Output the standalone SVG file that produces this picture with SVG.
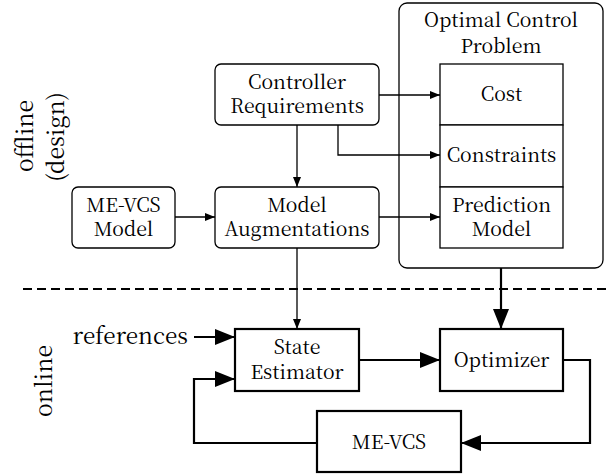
<svg xmlns="http://www.w3.org/2000/svg" width="607" height="474" viewBox="0 0 607 474">
<style>
.b{font-size:19.5px;text-anchor:middle}
.s{font-size:23px;text-anchor:middle}
.rb{fill:#fff;stroke:#000;stroke-width:1.3}
.tb{fill:#fff;stroke:#000;stroke-width:2.2}
.tn{fill:none;stroke:#000;stroke-width:1.3}
.tk{fill:none;stroke:#000;stroke-width:2.2}
</style>
<defs>
<marker id="ah" markerUnits="userSpaceOnUse" markerWidth="11" markerHeight="8" refX="10" refY="4" orient="auto"><path d="M0,0 L10,4 L0,8 Z" fill="#000"/></marker>
<marker id="ahb" markerUnits="userSpaceOnUse" markerWidth="21" markerHeight="16" refX="20" refY="8" orient="auto"><path d="M0,0 L20,8 L0,16 Z" fill="#000"/></marker>
</defs>
<rect width="607" height="474" fill="#fff"/>
<g font-family="'Noto Serif CJK SC', 'Liberation Serif', serif" fill="#000">

<g id="side-labels">
<text class="s" transform="translate(33,136) rotate(-90)">offline</text>
<text class="s" transform="translate(64,137) rotate(-90)">(design)</text>
<text class="s" transform="translate(52,381) rotate(-90)">online</text>
</g>

<g id="divider">
<line x1="23" y1="289" x2="607" y2="289" stroke="#000" stroke-width="2.2" stroke-dasharray="9,5"/>
</g>

<g id="ocp">
<rect class="rb" x="399" y="3" width="204" height="265" rx="8"/>
<text class="b" x="501" y="27">Optimal Control</text>
<text class="b" x="501" y="53">Problem</text>
</g>
<g id="cost">
<rect class="rb" x="440" y="64" width="123" height="61"/>
<text class="b" x="501.5" y="101">Cost</text>
</g>
<g id="constraints">
<rect class="rb" x="440" y="125" width="123" height="62"/>
<text class="b" x="501.5" y="162">Constraints</text>
</g>
<g id="prediction-model">
<rect class="rb" x="440" y="187" width="123" height="61"/>
<text class="b" x="501.5" y="212">Prediction</text>
<text class="b" x="501.5" y="236">Model</text>
</g>

<g id="controller-requirements">
<rect class="rb" x="215" y="64" width="164" height="61" rx="6"/>
<text class="b" x="297" y="89">Controller</text>
<text class="b" x="297" y="113">Requirements</text>
</g>
<g id="me-vcs-model">
<rect class="rb" x="72" y="187" width="103" height="61" rx="6"/>
<text class="b" x="123.5" y="212">ME-VCS</text>
<text class="b" x="123.5" y="236">Model</text>
</g>
<g id="model-augmentations">
<rect class="rb" x="215" y="187" width="164" height="61" rx="6"/>
<text class="b" x="297" y="212">Model</text>
<text class="b" x="297" y="236">Augmentations</text>
</g>

<g id="state-estimator">
<rect class="tb" x="235" y="329" width="124" height="62"/>
<text class="b" x="297" y="354">State</text>
<text class="b" x="297" y="379">Estimator</text>
</g>
<g id="optimizer">
<rect class="tb" x="440" y="329" width="123" height="62"/>
<text class="b" x="501.5" y="367">Optimizer</text>
</g>
<g id="me-vcs">
<rect class="tb" x="317" y="411" width="144" height="61"/>
<text class="b" x="389" y="449">ME-VCS</text>
</g>

<g id="references-label">
<text x="188" y="344" font-size="22.5" text-anchor="end">references</text>
</g>
</g>

<g id="connectors">
<path class="tn" d="M297,125 V187" marker-end="url(#ah)"/>
<path class="tn" d="M175,217 H215" marker-end="url(#ah)"/>
<path class="tn" d="M379,95 H440" marker-end="url(#ah)"/>
<path class="tn" d="M338,125 V155 H440" marker-end="url(#ah)"/>
<path class="tn" d="M379,217 H440" marker-end="url(#ah)"/>
<path class="tn" d="M297,248 V329" marker-end="url(#ah)"/>
<path class="tk" d="M501,268 V329" marker-end="url(#ahb)"/>
<path class="tk" d="M194,337 H235" marker-end="url(#ahb)"/>
<path class="tk" d="M359,360 H440" marker-end="url(#ahb)"/>
<path class="tk" d="M563,360 H590 V443 H461" marker-end="url(#ahb)"/>
<path class="tk" d="M317,443 H194 V379 H235" marker-end="url(#ahb)"/>
</g>
</svg>
